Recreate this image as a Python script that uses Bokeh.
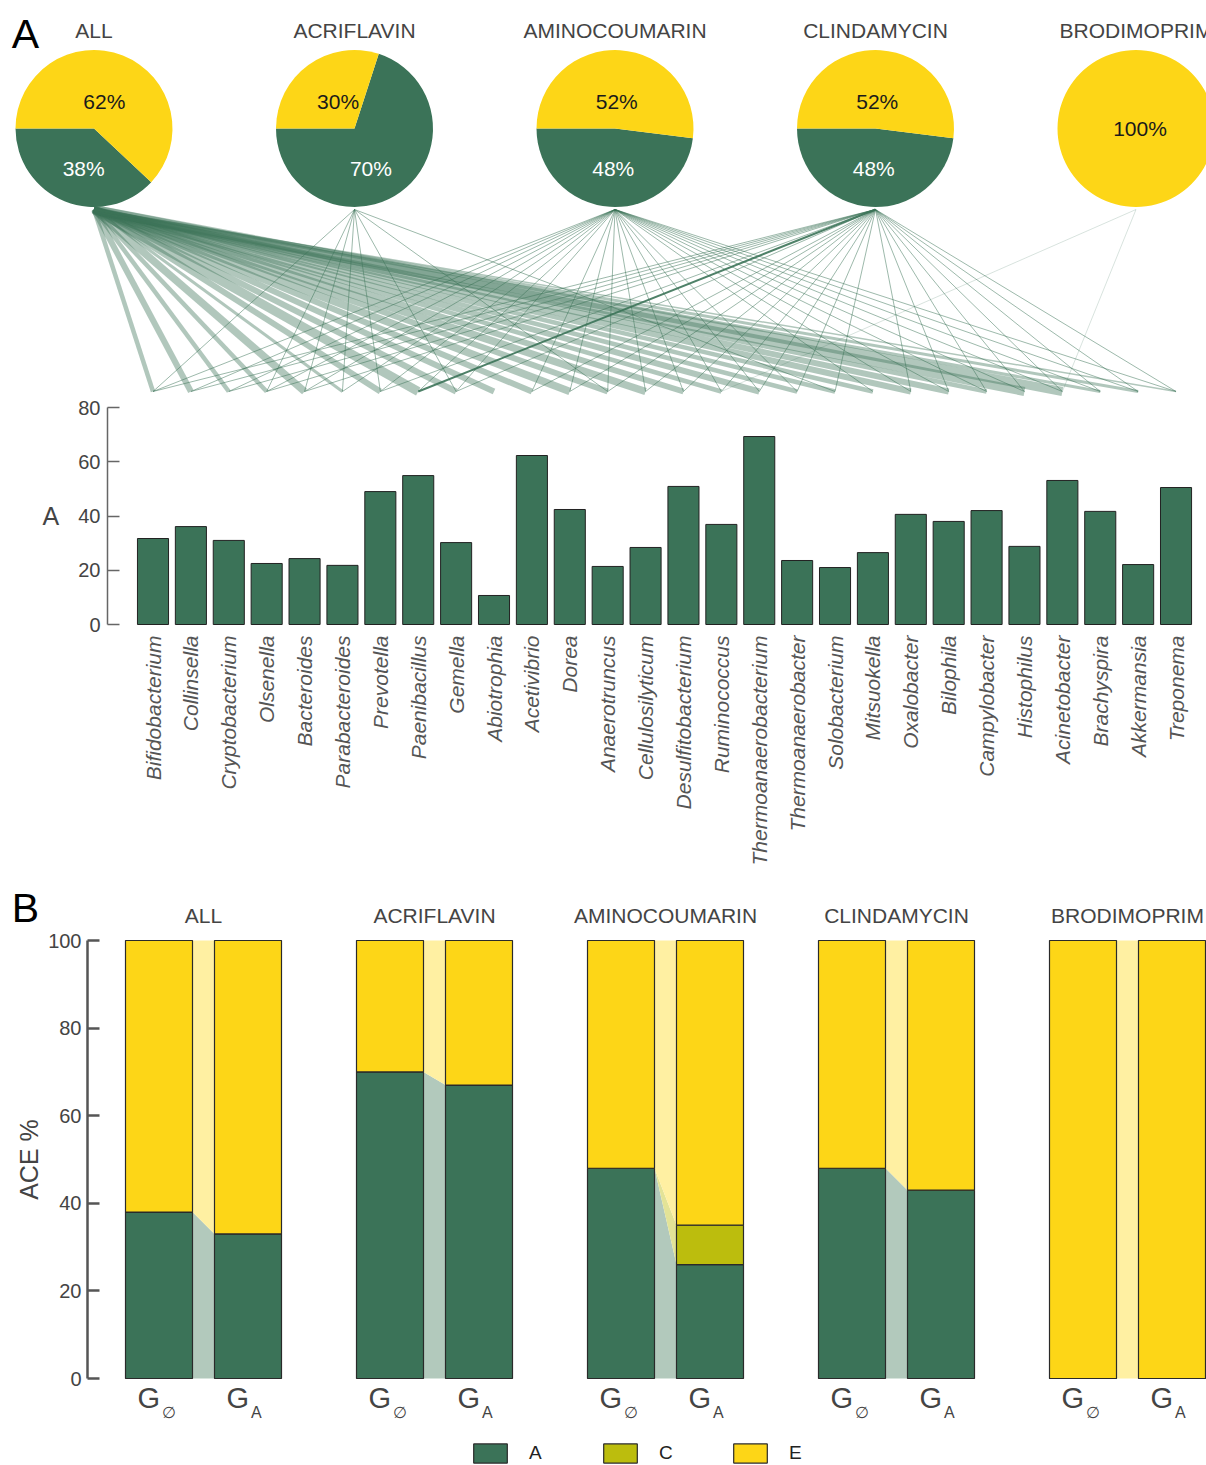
import math

from bokeh.core.properties import value
from bokeh.embed import file_html
from bokeh.layouts import column
from bokeh.models import (ColumnDataSource, FixedTicker, Legend, LegendItem,
                          LinearAxis, Range1d)
from bokeh.plotting import figure
from bokeh.resources import INLINE

# ---------------------------------------------------------------- data
genera = ["Bifidobacterium", "Collinsella", "Cryptobacterium", "Olsenella",
          "Bacteroides", "Parabacteroides", "Prevotella", "Paenibacillus",
          "Gemella", "Abiotrophia", "Acetivibrio", "Dorea", "Anaerotruncus",
          "Cellulosilyticum", "Desulfitobacterium", "Ruminococcus",
          "Thermoanaerobacterium", "Thermoanaerobacter", "Solobacterium",
          "Mitsuokella", "Oxalobacter", "Bilophila", "Campylobacter",
          "Histophilus", "Acinetobacter", "Brachyspira", "Akkermansia",
          "Treponema"]
genus_A = [31.7, 36.1, 31.0, 22.5, 24.3, 21.8, 49.0, 54.9, 30.2, 10.7,
           62.3, 42.4, 21.4, 28.4, 50.9, 36.9, 69.3, 23.6, 21.0, 26.5,
           40.6, 38.0, 42.0, 28.8, 53.1, 41.7, 22.1, 50.5]

groups = ["ALL", "ACRIFLAVIN", "AMINOCOUMARIN", "CLINDAMYCIN", "BRODIMOPRIM"]
pie_A = [38, 70, 48, 48, 0]
pie_E = [62, 30, 52, 52, 100]

# links from each group to the genera (ALL carries a weight per genus)
all_link_width = [3, 4, 3, 3, 5, 2, 4, 6, 4, 4, 4, 5, 4, 5, 4, 3, 4, 3, 3, 3,
                  4, 4, 3, 6, 6, 2, 2, 1]
acriflavin_links = [0, 3, 4, 5, 6, 8, 12, 18]
aminocoumarin_links = [0, 1, 2, 3, 4, 5, 6, 7, 8, 10, 11, 12, 13, 14, 15, 16,
                       17, 19, 20, 21, 22, 23, 24, 25, 26, 27]
clindamycin_links = [0, 1, 2, 3, 4, 6, 7, 8, 10, 11, 12, 13, 14, 15, 16, 17,
                     18, 20, 21, 22, 23, 24, 25, 26, 27]
clindamycin_strong = [7]
brodimoprim_links = [15, 24]

# ACE composition per group: G_empty and G_A
categories = ["A", "C", "E"]
g0_A = [38, 70, 48, 48, 0]
g0_C = [0, 0, 0, 0, 0]
g0_E = [62, 30, 52, 52, 100]
gA_A = [33, 67, 26, 43, 0]
gA_C = [0, 0, 9, 0, 0]
gA_E = [67, 33, 65, 57, 100]

# ---------------------------------------------------------------- style
FONT = "Liberation Sans"
GREEN = "#3b7358"
YELLOW = "#fdd617"
OLIVE = "#bcbd0d"
LIGHT = {"A": "#b2c9bc", "C": "#e3e397", "E": "#fff0a2"}
SOLID = {"A": GREEN, "C": OLIVE, "E": YELLOW}
TEXT = "#444444"

W = 1206

# ================================================================ panel A
A_H = 880
BAR_X0, BAR_STEP = 152.5, 37.89          # pixel centre of first bar, spacing
A_ZERO, A_SCALE = 624, 217.0 / 80.0      # pixel row of 0, pixels per unit


def ax(px):
    return (px - BAR_X0) / BAR_STEP


def ay(py):
    return (A_ZERO - py) / A_SCALE


pa = figure(width=W, height=A_H, x_range=Range1d(ax(0), ax(W)),
            y_range=Range1d(ay(A_H), ay(0)), x_axis_type=None,
            y_axis_type=None, output_backend="svg", toolbar_location=None,
            title=None, min_border=0, outline_line_color=None)

n = len(genera)
idx = list(range(n))

# network: pies -> genera
pie_x = [ax(93.5 + 260.5 * i) for i in range(len(groups))]
pie_y = ay(128)
top_y = ay(209)
bot_y = ay(391)

seg = dict(x0=[], y0=[], x1=[], y1=[], w=[], a=[])


def add_links(gi, targets, widths, alpha):
    for t, w in zip(targets, widths):
        seg["x0"].append(pie_x[gi])
        seg["y0"].append(top_y)
        seg["x1"].append(t)
        seg["y1"].append(bot_y)
        seg["w"].append(w)
        seg["a"].append(alpha)


add_links(0, idx, [1.5 * w for w in all_link_width], 0.4)
pa.segment(x0="x0", y0="y0", x1="x1", y1="y1", line_width="w",
           line_alpha="a", line_color=GREEN, source=ColumnDataSource(seg))

seg = dict(x0=[], y0=[], x1=[], y1=[], w=[], a=[])
add_links(1, acriflavin_links, [1] * len(acriflavin_links), 0.5)
add_links(2, aminocoumarin_links, [1] * len(aminocoumarin_links), 0.5)
add_links(3, clindamycin_links,
          [2 if t in clindamycin_strong else 1 for t in clindamycin_links], 0.5)
for k, t in enumerate(seg["x1"]):
    if seg["w"][k] == 2:
        seg["a"][k] = 0.9
add_links(4, brodimoprim_links, [1] * len(brodimoprim_links), 0.2)
pa.segment(x0="x0", y0="y0", x1="x1", y1="y1", line_width="w",
           line_alpha="a", line_color=GREEN, source=ColumnDataSource(seg))

# pies
wedges = dict(x=[], start=[], end=[], color=[])
labels = dict(x=[], text=[], color=[], dx=[], dy=[])
for i in range(len(groups)):
    start = math.pi
    slices = [(pie_A[i], GREEN, "white"), (pie_E[i], YELLOW, "#1a1a1a")]
    nonzero = [s for s in slices if s[0] > 0]
    for v, col, tcol in slices:
        if v <= 0:
            continue
        span = min(2 * math.pi * v / 100.0, 2 * math.pi - 1e-3)
        wedges["x"].append(pie_x[i])
        wedges["start"].append(start)
        wedges["end"].append(start + span)
        wedges["color"].append(col)
        mid = start + span / 2
        labels["x"].append(pie_x[i])
        labels["text"].append(f"{v}%")
        labels["color"].append(tcol)
        if len(nonzero) == 1:
            labels["dx"].append(4)
            labels["dy"].append(0)
        else:
            labels["dx"].append(28 * math.cos(mid))
            labels["dy"].append(40 if col == GREEN else -27)
        start += span

pa.wedge(x="x", y=pie_y, radius=78.5, radius_units="screen",
         start_angle="start", end_angle="end", fill_color="color",
         line_color=None, source=ColumnDataSource(wedges))
pa.text(x="x", y=pie_y, text="text", text_color="color", x_offset="dx",
        y_offset="dy", text_align="center", text_baseline="middle",
        text_font=value(FONT), text_font_size="21px",
        source=ColumnDataSource(labels))

pa.text(x=pie_x, y=[ay(30)] * len(groups), text=groups, text_align="center",
        text_baseline="middle", text_color=TEXT, text_font=value(FONT),
        text_font_size="21px")
pa.text(x=[ax(25)], y=[ay(33)], text=["A"], text_align="center",
        text_baseline="middle", text_color="black", text_font=value(FONT),
        text_font_size="41px")

# bars
pa.vbar(x=idx, top=genus_A, bottom=0, width=0.82, fill_color=GREEN,
        line_color="#222222", line_width=1)

y_axis_a = LinearAxis(fixed_location=ax(107), bounds=(0, 80),
                      ticker=FixedTicker(ticks=[0, 20, 40, 60, 80]),
                      axis_label="A", axis_label_orientation="horizontal",
                      axis_label_standoff=16,
                      axis_label_text_font=FONT,
                      axis_label_text_font_size="25px",
                      axis_label_text_font_style="normal",
                      axis_label_text_color=TEXT,
                      axis_line_color="#666666", axis_line_width=1.5,
                      major_tick_line_color="#666666",
                      major_tick_line_width=1.5,
                      major_tick_in=12, major_tick_out=0,
                      minor_tick_line_color=None,
                      major_label_standoff=7,
                      major_label_text_font=FONT,
                      major_label_text_font_size="20px",
                      major_label_text_color=TEXT)
pa.add_layout(y_axis_a, "left")

x_axis_a = LinearAxis(fixed_location=0, ticker=FixedTicker(ticks=idx),
                      major_label_overrides={i: g for i, g in enumerate(genera)},
                      major_label_orientation=math.pi / 2,
                      axis_line_color=None, major_tick_line_color=None,
                      minor_tick_line_color=None, major_tick_out=0,
                      major_tick_in=0, major_label_standoff=11,
                      major_label_text_font=FONT,
                      major_label_text_font_size="21px",
                      major_label_text_font_style="italic",
                      major_label_text_color="#555555")
pa.add_layout(x_axis_a, "below")

# ================================================================ panel B
B_TOP, B_H = 880, 585
GROUP_X0, GROUP_STEP = 203, 231
B_ZERO, B_SCALE = 1378, 438.0 / 100.0
BAR_W_PX, GAP_PX = 67, 22


def bx(px):
    return (px - GROUP_X0) / GROUP_STEP


def by(py):
    return (B_ZERO - py) / B_SCALE


pb = figure(width=W, height=B_H, x_range=Range1d(bx(0), bx(W)),
            y_range=Range1d(by(B_TOP + B_H), by(B_TOP)), x_axis_type=None,
            y_axis_type=None, output_backend="svg", toolbar_location=None,
            title=None, min_border=0, outline_line_color=None)

bar_w = BAR_W_PX / GROUP_STEP
off = (BAR_W_PX + GAP_PX) / 2 / GROUP_STEP
ng = len(groups)
x_g0 = [g - off for g in range(ng)]
x_gA = [g + off for g in range(ng)]

cols0 = {"A": g0_A, "C": g0_C, "E": g0_E}
colsA = {"A": gA_A, "C": gA_C, "E": gA_E}

# ribbons between the two columns of each group
rib = dict(xs=[], ys=[], color=[])
for g in range(ng):
    lo0 = lo1 = 0
    xl = x_g0[g] + bar_w / 2
    xr = x_gA[g] - bar_w / 2
    for c in categories:
        hi0 = lo0 + cols0[c][g]
        hi1 = lo1 + colsA[c][g]
        if hi0 > lo0 or hi1 > lo1:
            rib["xs"].append([xl, xl, xr, xr])
            rib["ys"].append([lo0, hi0, hi1, lo1])
            rib["color"].append(LIGHT[c])
        lo0, lo1 = hi0, hi1
pb.patches(xs="xs", ys="ys", fill_color="color", line_color=None,
           source=ColumnDataSource(rib))

# stacked columns
renderers = {}
base0 = [0] * ng
baseA = [0] * ng
for c in categories:
    top0 = [b + v for b, v in zip(base0, cols0[c])]
    topA = [b + v for b, v in zip(baseA, colsA[c])]
    src = ColumnDataSource(dict(x=x_g0 + x_gA, bottom=base0 + baseA,
                                top=top0 + topA))
    renderers[c] = pb.vbar(x="x", bottom="bottom", top="top", width=bar_w,
                           fill_color=SOLID[c], line_color="#2a2a2a",
                           line_width=1.2, source=src)
    base0, baseA = top0, topA

# group titles, panel letter and column labels
pb.text(x=list(range(ng)), y=[by(915)] * ng, text=groups, text_align="center",
        text_baseline="middle", text_color=TEXT, text_font=value(FONT),
        text_font_size="21px")
pb.text(x=[bx(25)], y=[by(907)], text=["B"], text_align="center",
        text_baseline="middle", text_color="black", text_font=value(FONT),
        text_font_size="41px")

col_x = x_g0 + x_gA
col_sub = ["\u2205"] * ng + ["A"] * ng
pb.text(x=col_x, y=[by(1397)] * len(col_x), text=["G"] * len(col_x),
        text_align="right", x_offset=1, text_baseline="middle",
        text_color=TEXT, text_font=value(FONT), text_font_size="29px")
pb.text(x=col_x, y=[by(1412)] * len(col_x), text=col_sub, text_align="left",
        x_offset=3, text_baseline="middle", text_color=TEXT,
        text_font=value(FONT), text_font_size="16px")

y_axis_b = LinearAxis(fixed_location=bx(87), bounds=(0, 100),
                      ticker=FixedTicker(ticks=[0, 20, 40, 60, 80, 100]),
                      axis_label="ACE %", axis_label_standoff=2,
                      axis_label_text_font=FONT,
                      axis_label_text_font_size="25px",
                      axis_label_text_font_style="normal",
                      axis_label_text_color=TEXT,
                      axis_line_color="#555555", axis_line_width=2.5,
                      major_tick_line_color="#555555",
                      major_tick_line_width=2.5,
                      major_tick_in=12, major_tick_out=0,
                      minor_tick_line_color=None,
                      major_label_standoff=6,
                      major_label_text_font=FONT,
                      major_label_text_font_size="20px",
                      major_label_text_color=TEXT)
pb.add_layout(y_axis_b, "left")

legend = Legend(items=[LegendItem(label=c, renderers=[renderers[c]])
                       for c in categories],
                location=(469, 0), orientation="horizontal",
                glyph_width=42, glyph_height=24, label_standoff=18,
                label_width=20, spacing=50, padding=0, margin=0,
                border_line_color=None, background_fill_alpha=0,
                label_text_font=FONT, label_text_font_size="19px",
                label_text_color="#222222")
pb.add_layout(legend)

layout = column(pa, pb, spacing=0)
open("out.html", "w").write(file_html(layout, INLINE))
